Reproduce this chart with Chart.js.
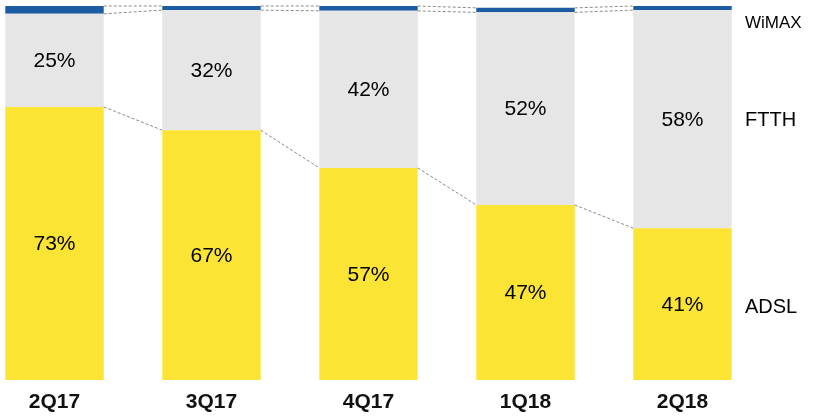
<!DOCTYPE html>
<html>
<head>
<meta charset="utf-8">
<script src="https://cdn.jsdelivr.net/npm/chart.js@4/dist/chart.umd.min.js"></script>
<style>
  html, body { margin: 0; padding: 0; background: #ffffff; overflow: hidden; }
  #wrap { position: absolute; left: -24px; top: 0; width: 840px; height: 418px; }
</style>
</head>
<body>
<div id="wrap"><canvas id="c" width="840" height="418"></canvas></div>
<script>
const categories = ['2Q17', '3Q17', '4Q17', '1Q18', '2Q18'];
const seriesNames = ['ADSL', 'FTTH', 'WiMAX'];
const adsl  = [73.0, 66.8, 56.7, 46.8, 40.6];
const ftth  = [24.9, 32.1, 42.0, 51.5, 58.3];
const wimax = [2.1, 1.1, 1.3, 1.2, 1.1];
const colors = ['#FCE434', '#E6E6E6', '#1B5CA3'];

const pct = v => Math.round(v) + '%';

const overlay = {
  id: 'overlay',
  afterDatasetsDraw(chart) {
    const ctx = chart.ctx;
    const metas = [0, 1, 2].map(i => chart.getDatasetMeta(i));
    // dashed connectors between bars at each segment top
    ctx.save();
    ctx.strokeStyle = '#8a8a8a';
    ctx.lineWidth = 1;
    ctx.setLineDash([3, 2]);
    metas.forEach(meta => {
      for (let i = 0; i < meta.data.length - 1; i++) {
        const a = meta.data[i], b = meta.data[i + 1];
        ctx.beginPath();
        ctx.moveTo(a.x + a.width / 2, a.y);
        ctx.lineTo(b.x - b.width / 2, b.y);
        ctx.stroke();
      }
    });
    ctx.restore();
    // value labels inside ADSL and FTTH segments
    ctx.save();
    ctx.fillStyle = '#000';
    ctx.font = '21px "Liberation Sans", Arial, sans-serif';
    ctx.textAlign = 'center';
    ctx.textBaseline = 'middle';
    [0, 1].forEach(di => {
      const vals = chart.data.datasets[di].data;
      metas[di].data.forEach((el, i) => {
        ctx.fillText(pct(vals[i]), el.x, (el.y + el.base) / 2 + 1);
      });
    });
    // series names on the right
    const last = metas.map(m => m.data[m.data.length - 1]);
    const lx = chart.chartArea.right - 16;
    ctx.textAlign = 'left';
    ctx.font = '20px "Liberation Sans", Arial, sans-serif';
    ctx.fillText(seriesNames[0], lx, (last[0].y + last[0].base) / 2 + 3);
    ctx.fillText(seriesNames[1], lx, (last[1].y + last[1].base) / 2 + 1);
    ctx.font = '17px "Liberation Sans", Arial, sans-serif';
    ctx.fillText(seriesNames[2], lx, last[2].y + 17);
    ctx.restore();
  }
};

new Chart(document.getElementById('c'), {
  type: 'bar',
  data: {
    labels: categories,
    datasets: [
      { label: seriesNames[0], data: adsl,  backgroundColor: colors[0] },
      { label: seriesNames[1], data: ftth,  backgroundColor: colors[1] },
      { label: seriesNames[2], data: wimax, backgroundColor: colors[2] }
    ]
  },
  options: {
    responsive: false,
    animation: false,
    events: [],
    layout: { padding: { top: 6, right: 55, bottom: 0, left: 0 } },
    datasets: { bar: { barPercentage: 0.627, categoryPercentage: 1.0, borderWidth: 0 } },
    plugins: { legend: { display: false }, tooltip: { enabled: false } },
    scales: {
      x: {
        stacked: true,
        grid: { display: false, drawTicks: false },
        border: { display: false },
        afterFit: s => { s.height = 38; },
        ticks: {
          padding: 10,
          color: '#111',
          font: { family: '"Liberation Sans", Arial, sans-serif', size: 21, weight: 'bold' }
        }
      },
      y: {
        stacked: true,
        display: false,
        min: 0,
        max: 100
      }
    }
  },
  plugins: [overlay]
});
</script>
</body>
</html>
